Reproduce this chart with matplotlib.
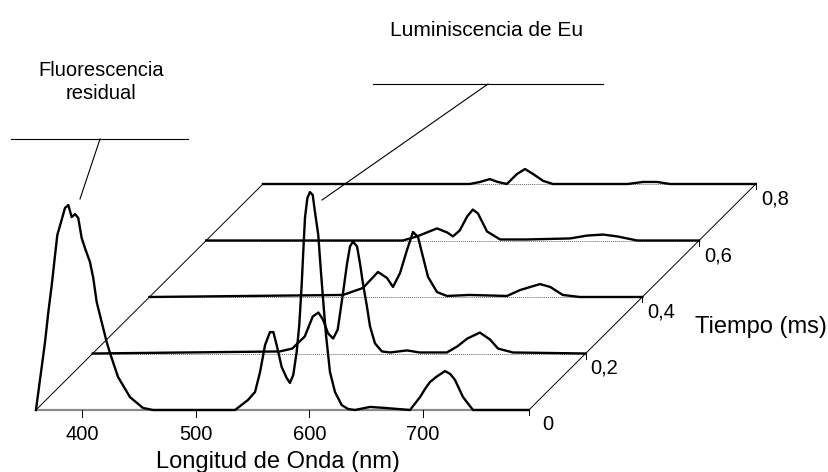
# waterfall of Eu luminescence spectra vs delay time (pseudo 3D, oblique view)

import matplotlib.pyplot as plt

plt.rcParams['font.family'] = ['Liberation Sans', 'DejaVu Sans']

# spectra: wavelength (nm) and intensity (a.u.)
wl_t0 = [359.5, 367.5, 370.4, 373.4, 376.3, 378.3, 382.1, 385.0, 388.0, 390.9, 393.8,
         396.7, 399.7, 402.6, 407.0, 409.9, 412.9, 417.3, 421.7, 424.6, 431.7, 442.2,
         453.6, 462.4, 534.6, 546.0, 552.2, 556.6, 561.0, 565.3, 568.3, 571.2, 575.6,
         580.0, 582.9, 585.8, 588.8, 591.1, 593.2, 594.6, 596.1, 598.2, 600.5, 602.9,
         604.9, 607.8, 609.9, 612.2, 614.6, 618.1, 622.5, 628.4, 634.0, 640.1, 653.3,
         666.5, 688.5, 697.3, 702.0, 706.1, 712.0, 719.3, 724.0, 728.1, 735.1, 743.9, 793]
int_t0 = [0, 33.2, 47.8, 61, 75.6, 85.4, 92.7, 98.5, 100, 94.1, 95.6,
          93.7, 83.9, 79, 72.2, 64.4, 52.7, 42.9, 33.2, 27.8, 16.1, 6.3,
          1, 0, 0, 4.9, 8.8, 18.5, 31.7, 38, 38, 31.7, 21,
          15.6, 13.2, 17.1, 28.3, 41.5, 61, 77.1, 93.7, 103.4, 106.3, 104.9,
          96.6, 85.4, 69.3, 52.7, 36.6, 18.5, 8.8, 2.4, 0.5, 0, 1.5,
          1, 0, 6.3, 10.5, 13.7, 16.3, 19, 17.5, 14.6, 6.3, 0, 0]

wl_t02 = [359.5, 524, 535, 546, 553, 558, 562, 566.5, 571, 575, 579.6, 583.2, 585.8,
          588.4, 592.0, 594.6, 597.2, 600.7, 603.4, 607.8, 613.9, 621, 636, 647, 671,
          680, 689, 700, 709, 716, 729, 793]
int_t02 = [0, 1, 2.4, 8.3, 18, 20, 16.6, 9.8, 7.3, 11.7, 29.3, 43.9, 52.2,
           54.6, 52.2, 43.9, 34.1, 22.9, 13.2, 4.9, 1, 0.5, 1.5, 0.5, 0.5,
           3.4, 7.3, 10.2, 6.8, 2.4, 0.5, 0]

wl_t04 = [359.5, 529.7, 547.3, 560.5, 568.4, 573.7, 579.9, 586.0, 591.3, 595.7, 600.1,
          604.5, 612.4, 621.2, 641, 674, 685.5, 703, 712, 723, 738, 793]
int_t04 = [0, 1, 4.4, 12.2, 9.3, 4.9, 11.7, 22.9, 31.7, 29.3, 19.5,
           9.8, 2.4, 0.5, 1, 0.5, 3.4, 6.3, 4.9, 1, 0, 0]

wl_t06 = [359.5, 532.5, 545, 553.5, 562.5, 571.5, 576.5, 582.5, 589, 594, 598.5, 606.5,
          618, 641.5, 679.5, 694.5, 708.5, 721, 738.5, 793]
int_t06 = [0, 0, 2, 3.9, 5.9, 3.9, 2, 4.9, 11.7, 15.1, 13.2, 4.4,
           0.5, 0.5, 1, 2.4, 2.9, 2, 0, 0]

wl_t08 = [359.5, 541.5, 550.5, 559, 566, 574, 583, 590, 597, 606, 614.5, 680, 694, 706,
          717.5, 793]
int_t08 = [0, 0, 1, 2.4, 1, 0, 4.9, 7.3, 4.9, 1.5, 0, 0, 1, 1, 0, 0]

times = [0, 0.2, 0.4, 0.6, 0.8]
time_labels = ['0', '0,2', '0,4', '0,6', '0,8']
wl_ticks = [400, 500, 600, 700]

series = [(wl_t0, int_t0), (wl_t02, int_t02), (wl_t04, int_t04),
          (wl_t06, int_t06), (wl_t08, int_t08)]

# projection: pixels per nm / per intensity unit, depth shift per ms
PX_NM = 1.137
PX_U = 2.05
DX = 227 / PX_NM / 0.8
DY = 226 / PX_U / 0.8
W0, W1 = 359.5, 793


def px(x, y):
    # picture pixel -> data coords (only for labels / leader lines)
    return 400 + (x - 82) / PX_NM, (410 - y) / PX_U


fig = plt.figure(figsize=(8.29, 4.72), dpi=100)
ax = fig.add_axes([0, 0, 1, 1])
ax.set_xlim(px(0, 0)[0], px(829, 0)[0])
ax.set_ylim(px(0, 472)[1], px(0, 0)[1])
ax.axis('off')

# floor
ax.plot([W0, W1], [0, 0], color='#8c8c8c', lw=1.6, zorder=1)
for t in times[1:]:
    ax.plot([W0 + t * DX, W1 + t * DX], [t * DY, t * DY], color='#666666',
            ls=(0, (1, 1)), lw=0.7, zorder=1)
tmax = times[-1]
ax.plot([W0, W0 + tmax * DX], [0, tmax * DY], color='black', lw=0.7, zorder=1)
ax.plot([W1, W1 + tmax * DX], [0, tmax * DY], color='black', lw=0.7, zorder=1)

# spectra, back to front
for t, (w, i) in reversed(list(zip(times, series))):
    ax.plot([v + t * DX for v in w], [v + t * DY for v in i], color='black',
            lw=1.7, solid_joinstyle='round', zorder=3)

# wavelength axis
for w in wl_ticks:
    ax.plot([w, w], [0, -7 / PX_U], color='black', lw=0.7)
    ax.text(w, -25 / PX_U, str(w), ha='center', va='center', fontsize=14.5)
ax.text(*px(278, 462), 'Longitud de Onda (nm)', ha='center', va='center', fontsize=17)

# time axis
for t, lab in zip(times, time_labels):
    x0, y0 = W1 + t * DX, t * DY
    ax.plot([x0, x0], [y0, y0 - 5 / PX_U], color='black', lw=0.7)
    ax.text(x0 + 19 / PX_NM, y0 - 15 / PX_U, lab, ha='center', va='center', fontsize=14.5)
ax.text(*px(695, 327), 'Tiempo (ms)', ha='left', va='center', fontsize=17)

# callouts
ax.plot(*zip(px(11, 139), px(188, 139)), color='black', lw=0.8)
ax.plot(*zip(px(100, 139), px(80, 199)), color='black', lw=0.8)
ax.text(*px(101, 82), 'Fluorescencia\nresidual', ha='center', va='center',
        fontsize=14.5, linespacing=1.25)
ax.plot(*zip(px(373, 84), px(603, 84)), color='black', lw=0.8)
ax.plot(*zip(px(488, 84), px(322, 200)), color='black', lw=0.8)
ax.text(*px(487, 31), 'Luminiscencia de Eu', ha='center', va='center', fontsize=15)

fig.savefig('out.png', dpi=100)
